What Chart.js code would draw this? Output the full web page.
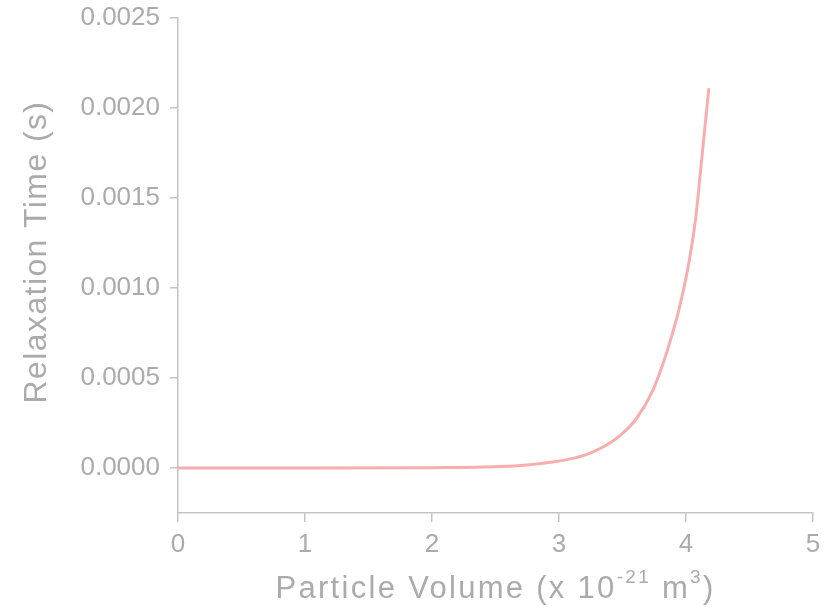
<!DOCTYPE html>
<html>
<head>
<meta charset="utf-8">
<script src="https://cdn.jsdelivr.net/npm/chart.js@4.4.0/dist/chart.umd.min.js"></script>
<style>
  html, body { margin: 0; padding: 0; background: #fff; }
  #wrap { width: 835px; height: 616px; }
</style>
</head>
<body>
<div id="wrap"><canvas id="relaxChart" width="835" height="616"></canvas></div>
<script>
// particle volume (x 10^-21 m^3) and relaxation time (s)
const volumes = [0, 1.0, 2.0, 2.4, 2.7, 2.95, 3.1, 3.22, 3.35, 3.48, 3.61, 3.74, 3.82, 3.89, 3.95, 4.03, 4.08, 4.12, 4.15, 4.18];
const relaxTimes = [0, 0, 0.000002, 0.000005, 0.000014, 0.000033, 0.000052, 0.000076, 0.000118, 0.000180, 0.000275, 0.000433, 0.000582, 0.00074, 0.000896, 0.00117, 0.00141, 0.00169, 0.0019, 0.00211];
const yTicks = [0, 0.0005, 0.0010, 0.0015, 0.0020, 0.0025];
const xTicks = [0, 1, 2, 3, 4, 5];

const grey = '#ababab';
const axisGrey = '#c4c4c4';
const font = 'Arial, "Liberation Sans", sans-serif';

// axis titles drawn by hand: superscripts on x, letter spacing on both
const axisTitles = {
    id: 'axisTitles',
    afterDraw(chart) {
        const ctx = chart.ctx;
        const area = chart.chartArea;
        ctx.save();
        ctx.fillStyle = grey;
        ctx.textBaseline = 'alphabetic';

        // y title, rotated
        ctx.save();
        ctx.translate(46, 252);
        ctx.rotate(-Math.PI / 2);
        ctx.font = '32px ' + font;
        ctx.letterSpacing = '1.4px';
        ctx.textAlign = 'center';
        ctx.fillText('Relaxation Time (s)', 0, 0);
        ctx.restore();

        // x title with exponents
        const parts = [
            { t: 'Particle Volume (x 10', size: 31, rise: 0 },
            { t: '-21', size: 19, rise: 15 },
            { t: ' m', size: 31, rise: 0 },
            { t: '3', size: 19, rise: 15 },
            { t: ')', size: 31, rise: 0 }
        ];
        ctx.textAlign = 'left';
        ctx.letterSpacing = '2.3px';
        let total = 0;
        parts.forEach(p => {
            ctx.font = p.size + 'px ' + font;
            p.w = ctx.measureText(p.t).width;
            total += p.w;
        });
        let x = (area.left + area.right) / 2 - total / 2;
        const base = 598;
        parts.forEach(p => {
            ctx.font = p.size + 'px ' + font;
            ctx.fillText(p.t, x, base - p.rise);
            x += p.w;
        });
        ctx.restore();
    }
};

const ctx = document.getElementById('relaxChart').getContext('2d');
new Chart(ctx, {
    type: 'line',
    data: {
        datasets: [{
            label: 'Relaxation Time',
            data: volumes.map((v, i) => ({ x: v, y: relaxTimes[i] })),
            borderColor: '#f8aeae',
            borderWidth: 3,
            pointRadius: 0,
            cubicInterpolationMode: 'monotone',
            fill: false
        }]
    },
    options: {
        responsive: false,
        animation: false,
        layout: { padding: { left: 0, right: 22, top: 18, bottom: 0 } },
        plugins: {
            legend: { display: false },
            tooltip: { enabled: false }
        },
        scales: {
            x: {
                type: 'linear',
                min: 0,
                max: 5,
                afterBuildTicks: s => { s.ticks = xTicks.map(v => ({ value: v })); },
                afterFit: s => { s.height = 616 - 513; },
                grid: { display: true, drawOnChartArea: false, drawTicks: true, tickLength: 9, color: axisGrey, lineWidth: 1.5 },
                border: { display: true, color: axisGrey, width: 1.5 },
                ticks: {
                    color: grey,
                    padding: 7,
                    font: { size: 26, family: font },
                    callback: v => String(v)
                }
            },
            y: {
                type: 'linear',
                min: -0.00025,
                max: 0.0025,
                afterBuildTicks: s => { s.ticks = yTicks.map(v => ({ value: v })); },
                afterFit: s => { s.width = 178; s.paddingTop = 0; s.paddingBottom = 0; },
                grid: { display: true, drawOnChartArea: false, drawTicks: true, tickLength: 8, color: axisGrey, lineWidth: 1.5 },
                border: { display: true, color: axisGrey, width: 1.5 },
                ticks: {
                    color: grey,
                    padding: 10,
                    font: { size: 26, family: font },
                    callback: v => v.toFixed(4)
                }
            }
        }
    },
    plugins: [axisTitles]
});
</script>
</body>
</html>
